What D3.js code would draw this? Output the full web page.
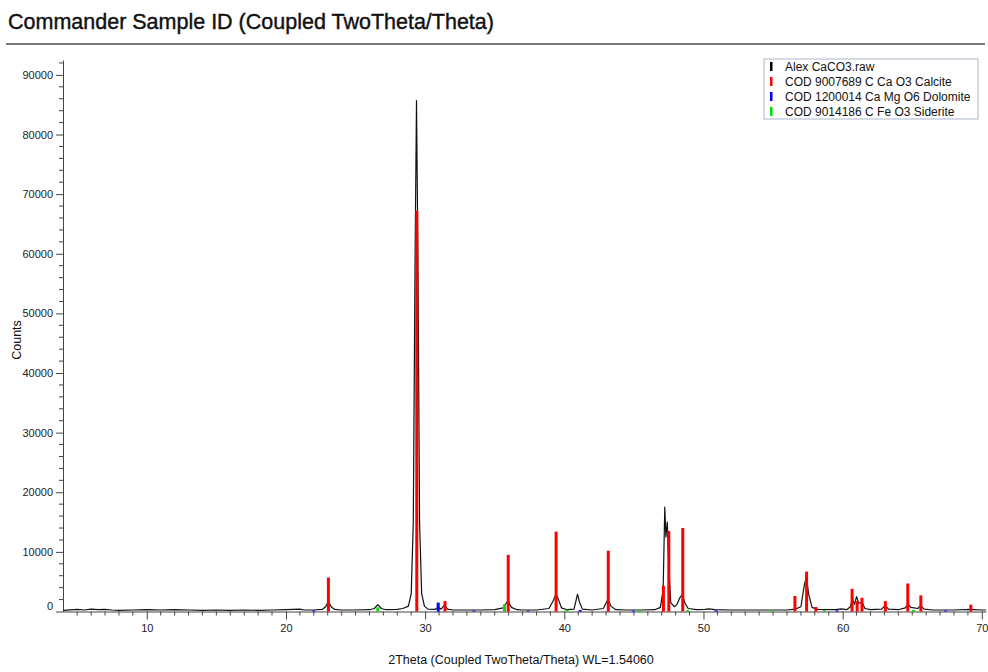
<!DOCTYPE html>
<html lang="en">
<head>
<meta charset="UTF-8">
<title>Commander Sample ID</title>
<script src="https://d3js.org/d3.v7.min.js"></script>
<style>
  body { margin: 0; background: #fff; }
  text { font-family: "Liberation Sans", Arial, sans-serif; }
</style>
</head>
<body>
<script>
// raw scan as [2theta, counts]
const rawScan = [
  [4.0, 200], [5.0, 350], [5.5, 250], [6.0, 400], [6.5, 300], [7.0, 350], [7.5, 250], [8.0, 200],
  [9.0, 250], [10.0, 300], [11, 250], [12, 300], [13, 250], [14, 200], [15, 250], [16, 200],
  [17, 250], [18, 200], [19, 250], [20, 300], [21, 400], [21.3, 250], [22, 250], [22.6, 350],
  [22.85, 800], [23.05, 1700], [23.25, 800], [23.5, 350], [24, 250], [25, 250], [26, 300],
  [26.35, 500], [26.6, 1150], [26.85, 500], [27.2, 300], [28, 350], [28.4, 500], [28.8, 900],
  [29.0, 3000], [29.15, 15000], [29.28, 60000], [29.38, 85700], [29.48, 60000], [29.6, 15000],
  [29.75, 3000], [29.95, 900], [30.2, 400], [30.7, 350], [30.93, 700], [31.15, 400], [31.4, 1100],
  [31.6, 400], [32, 250], [33, 250], [34, 250], [35, 300], [35.6, 600], [35.95, 1800], [36.2, 700],
  [36.6, 300], [37, 250], [38, 250], [38.9, 500], [39.2, 1800], [39.4, 2900], [39.55, 2200],
  [39.8, 600], [40.2, 300], [40.7, 400], [40.95, 2900], [41.1, 1500], [41.3, 400], [42, 250],
  [42.8, 500], [43.15, 2100], [43.35, 900], [43.7, 300], [44.5, 250], [45.5, 250], [46.5, 300],
  [46.9, 700], [47.1, 3500], [47.22, 17500], [47.3, 12500], [47.4, 15000], [47.5, 8000],
  [47.65, 1500], [47.9, 800], [48.1, 1200], [48.3, 2300], [48.5, 2900], [48.65, 1500], [48.9, 500],
  [49.5, 300], [50.1, 350], [50.4, 450], [50.8, 300], [52, 250], [54, 250], [56, 250], [56.6, 400],
  [57.0, 800], [57.25, 4500], [57.4, 5800], [57.55, 3000], [57.8, 700], [58.2, 350], [59.5, 300],
  [59.9, 450], [60.3, 300], [60.55, 800], [60.72, 2100], [60.85, 1200], [61.0, 2500], [61.15, 1400],
  [61.4, 1500], [61.6, 500], [62, 300], [62.8, 400], [63.05, 1000], [63.3, 400], [64, 300],
  [64.5, 600], [64.7, 1300], [64.9, 700], [65.4, 500], [65.6, 1000], [65.85, 400], [66.5, 250],
  [68, 250], [69.2, 350], [70, 250], [70.3, 250]
];

// reference patterns (stick positions and heights)
const calcitePos = [23.05, 29.40, 31.43, 35.97, 39.41, 43.16, 47.12, 47.51, 48.51, 56.57, 57.41, 58.08, 60.68, 61.04, 61.39, 63.07, 64.68, 65.62, 69.21];
const calciteInt = [5700, 67200, 1750, 9500, 13400, 10200, 4300, 13500, 14000, 2600, 6700, 750, 3800, 1750, 2300, 1750, 4700, 2700, 1150];
const dolomitePos = [22.0, 30.94, 33.5, 37.4, 41.14, 44.96, 50.9, 59.6, 67.4];
const dolomiteInt = [150, 1500, 150, 150, 250, 150, 200, 200, 150];
const sideritePos = [26.6, 35.7, 40.2, 45.4, 48.85, 54.9, 58.7, 65.1];
const sideriteInt = [700, 1200, 300, 200, 250, 200, 250, 250];

const legendNames = ["Alex CaCO3.raw", "COD 9007689 C Ca O3 Calcite", "COD 1200014 Ca Mg O6 Dolomite", "COD 9014186 C Fe O3 Siderite"];
const legendColors = ["#000", "#ff0000", "#0000ff", "#00dd00"];

const yTicks = [0, 10000, 20000, 30000, 40000, 50000, 60000, 70000, 80000, 90000];
const xTicks = [10, 20, 30, 40, 50, 60, 70];

const W = 988, H = 672;
const svg = d3.select("body").append("svg").attr("width", W).attr("height", H);

// title + rule
svg.append("text").attr("x", 8).attr("y", 29)
  .attr("font-size", 21.5).attr("fill", "#111")
  .attr("stroke", "#111").attr("stroke-width", 0.4)
  .text("Commander Sample ID (Coupled TwoTheta/Theta)");
svg.append("line").attr("x1", 6).attr("x2", 985).attr("y1", 44).attr("y2", 44)
  .attr("stroke", "#7a7a7a").attr("stroke-width", 2);

const x = d3.scaleLinear().domain([3.98, 70.3]).range([63, 986]);
const y = d3.scaleLinear().domain([0, 92500]).range([611.5, 60]);

// y axis
const yAxis = svg.append("g").attr("transform", "translate(63,0)")
  .call(d3.axisLeft(y).tickValues(yTicks).tickSize(7).tickSizeOuter(0).tickFormat(d3.format("d")));
yAxis.select(".domain").attr("stroke", "#444");
yAxis.selectAll(".tick line").attr("stroke", "#444");
yAxis.selectAll(".tick text").attr("font-size", 11).attr("fill", "#222")
  .attr("font-family", "Liberation Sans, Arial, sans-serif");
yAxis.selectAll(".tick text").filter(d => d === 0).attr("dy", "-0.15em");
svg.append("g").selectAll("line")
  .data(d3.range(0, 92001, 2000).filter(v => v % 10000 !== 0))
  .join("line")
  .attr("x1", 59).attr("x2", 63)
  .attr("y1", d => y(d)).attr("y2", d => y(d))
  .attr("stroke", "#444");

// x axis
const xAxis = svg.append("g").attr("transform", "translate(0,611.5)")
  .call(d3.axisBottom(x).tickValues(xTicks).tickSize(8).tickSizeOuter(0).tickPadding(5));
xAxis.select(".domain").attr("stroke", "#444");
xAxis.selectAll(".tick line").attr("stroke", "#444");
xAxis.selectAll(".tick text").attr("font-size", 11).attr("fill", "#222")
  .attr("font-family", "Liberation Sans, Arial, sans-serif");
svg.append("g").selectAll("line")
  .data(d3.range(5, 71, 1).filter(v => v % 10 !== 0))
  .join("line")
  .attr("x1", d => x(d)).attr("x2", d => x(d))
  .attr("y1", 611.5).attr("y2", 615.5)
  .attr("stroke", "#444");

// axis titles
svg.append("text").attr("transform", "translate(21,340) rotate(-90)")
  .attr("text-anchor", "middle").attr("font-size", 12.5).attr("fill", "#111").text("Counts");
svg.append("text").attr("x", 521).attr("y", 664)
  .attr("text-anchor", "middle").attr("font-size", 12.5).attr("fill", "#111")
  .text("2Theta (Coupled TwoTheta/Theta) WL=1.54060");

// raw trace
const line = d3.line().x(d => x(d[0])).y(d => y(d[1]));
svg.append("path").datum(rawScan)
  .attr("d", line).attr("fill", "none")
  .attr("stroke", "#111").attr("stroke-width", 1.2).attr("stroke-linejoin", "round");

// reference sticks
function sticks(pos, ints, color) {
  svg.append("g").selectAll("line")
    .data(pos.map((p, i) => [p, ints[i]]))
    .join("line")
    .attr("x1", d => x(d[0])).attr("x2", d => x(d[0]))
    .attr("y1", y(0)).attr("y2", d => y(d[1]))
    .attr("stroke", color).attr("stroke-width", 3);
}
sticks(sideritePos, sideriteInt, legendColors[3]);
sticks(dolomitePos, dolomiteInt, legendColors[2]);
sticks(calcitePos, calciteInt, legendColors[1]);

// legend
const lg = svg.append("g").attr("transform", "translate(764,59)");
lg.append("rect").attr("width", 214).attr("height", 60)
  .attr("fill", "#fff").attr("stroke", "#a9b7cc").attr("stroke-width", 1);
const items = lg.selectAll("g.item").data(legendNames).join("g")
  .attr("transform", (d, i) => `translate(0,${3 + i * 15})`);
items.append("rect").attr("x", 6).attr("y", 0).attr("width", 2.5).attr("height", 9)
  .attr("fill", (d, i) => legendColors[i]);
items.append("text").attr("x", 21).attr("y", 9)
  .attr("font-size", 12).attr("fill", "#111").text(d => d);
</script>
</body>
</html>
